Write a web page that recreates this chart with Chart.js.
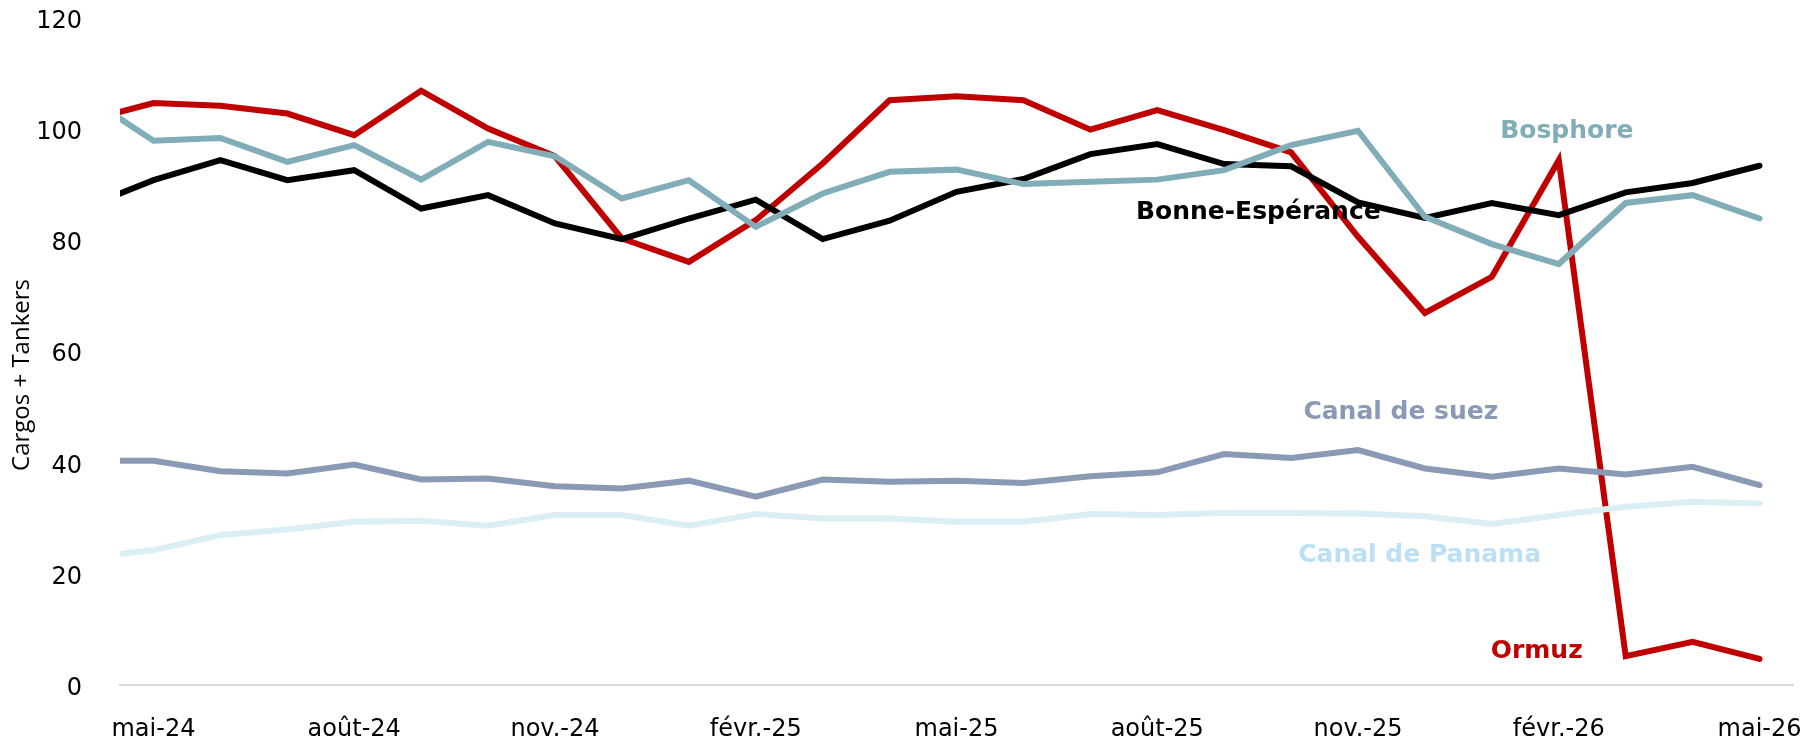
<!DOCTYPE html>
<html><head><meta charset="utf-8">
<script src="https://cdn.jsdelivr.net/npm/chart.js@4.4.1/dist/chart.umd.min.js"></script>
<style>html,body{margin:0;padding:0;background:#fff;}#wrap{width:1806px;height:740px;position:relative;}</style>
</head><body><div id="wrap"><canvas id="c" width="1806" height="740"></canvas></div>
<script>
// Months (first one sits just left of the visible area and is clipped)
const categories = ['avr.-24','mai-24','juin-24','juil.-24','août-24','sept.-24','oct.-24','nov.-24','déc.-24','janv.-25','févr.-25','mars-25','avr.-25','mai-25','juin-25','juil.-25','août-25','sept.-25','oct.-25','nov.-25','déc.-25','janv.-26','févr.-26','mars-26','avr.-26','mai-26'];
const tickLabels = ['mai-24','août-24','nov.-24','févr.-25','mai-25','août-25','nov.-25','févr.-26','mai-26'];
const yTicks = [0,20,40,60,80,100,120];

const ormuz     = [101.5,104.7,104.2,102.8,98.9,106.9,100.1,95.1,80.3,76.1,83.6,93.8,105.2,105.9,105.2,99.9,103.4,99.8,95.8,80.6,66.9,73.4,94.4,5.1,7.7,4.6];
const bosphore  = [105.9,97.9,98.4,94.1,97.1,90.9,97.7,95.1,87.5,90.8,82.4,88.4,92.3,92.7,90.1,90.5,90.9,92.6,97.1,99.7,84.2,79.3,75.7,86.7,88.1,83.9];
const bonneEsp  = [86.0,90.8,94.4,90.8,92.6,85.7,88.1,83.0,80.2,83.9,87.3,80.2,83.5,88.7,91.0,95.5,97.3,93.7,93.3,86.8,84.0,86.7,84.5,88.6,90.3,93.4];
const suez      = [40.3,40.3,38.4,38.0,39.6,36.9,37.1,35.7,35.3,36.7,33.8,36.9,36.5,36.7,36.3,37.5,38.2,41.5,40.8,42.2,38.9,37.4,38.9,37.8,39.2,35.9];
const panama    = [22.8,24.2,26.9,27.9,29.3,29.5,28.6,30.5,30.5,28.6,30.7,29.9,29.9,29.3,29.3,30.7,30.5,30.9,30.9,30.8,30.3,28.9,30.5,32.0,32.9,32.6];

const seriesNames = ['Canal de Panama','Canal de suez','Bosphore','Bonne-Espérance','Ormuz'];
const seriesColors = ['#DAEEF3','#8A9AB4','#80ADB7','#000000','#C00000'];
const labelColors  = ['#BBE0F5','#8A9AB4','#80ADB7','#000000','#C00000'];
// label anchors in data units [month offset, value]
const labelAnchors = [[18.92,23.3],[18.64,48.9],[21.12,99.5],[16.51,85.0],[20.67,5.9]];

const xOf = i => i - 1; // mai-24 = 0
const toPts = arr => arr.map((v,i)=>({x:xOf(i), y:v}));
const allSeries = [panama, suez, bosphore, bonneEsp, ormuz];
const tickPositions = tickLabels.map(l => xOf(categories.indexOf(l)));

const datasets = allSeries.map((arr,k)=>({
  label: seriesNames[k],
  data: toPts(arr),
  borderColor: seriesColors[k],
  backgroundColor: seriesColors[k],
  borderWidth: 6,
  pointRadius: 0,
  tension: 0,
  borderCapStyle: 'round',
  borderJoinStyle: 'miter',
  clip: 0
}));

const seriesLabelPlugin = {
  id: 'seriesLabels',
  afterDatasetsDraw(chart){
    const {ctx, scales:{x,y}} = chart;
    ctx.save();
    ctx.font = 'bold 25px "DejaVu Sans"';
    ctx.textAlign = 'center';
    ctx.textBaseline = 'middle';
    seriesNames.forEach((n,k)=>{
      ctx.fillStyle = labelColors[k];
      ctx.fillText(n, x.getPixelForValue(labelAnchors[k][0]), y.getPixelForValue(labelAnchors[k][1]));
    });
    ctx.restore();
  }
};
const yTitlePlugin = {
  id: 'yTitle',
  afterDraw(chart){
    const {ctx} = chart;
    ctx.save();
    ctx.translate(22, 375);
    ctx.rotate(-Math.PI/2);
    ctx.font = '24px "Open Sans"';
    ctx.fillStyle = '#000';
    ctx.textAlign = 'center';
    ctx.textBaseline = 'middle';
    ctx.fillText('Cargos + Tankers', 0, 0);
    ctx.restore();
  }
};

new Chart(document.getElementById('c'), {
  type: 'line',
  data: { datasets },
  options: {
    responsive: false,
    animation: false,
    devicePixelRatio: 1,
    layout: { padding: { top: 18, right: 13, left: 0, bottom: 0 } },
    plugins: { legend: { display: false }, tooltip: { enabled: false } },
    scales: {
      x: {
        type: 'linear', min: -0.5, max: 24.5,
        grid: { display: false },
        border: { display: true, color: '#D9D9D9', width: 2 },
        afterBuildTicks: s => { s.ticks = tickPositions.map(v=>({value:v})); },
        afterFit: s => { s.height = 55.5; s.paddingLeft = 0; s.paddingRight = 0; },
        ticks: {
          autoSkip: false, maxRotation: 0, padding: 23,
          color: '#000', font: { family: 'DejaVu Sans', size: 24 },
          callback: v => { const i = tickPositions.indexOf(v); return i >= 0 ? tickLabels[i] : ''; }
        }
      },
      y: {
        min: 0, max: 120,
        grid: { display: false },
        border: { display: false },
        afterBuildTicks: s => { s.ticks = yTicks.map(v=>({value:v})); },
        afterFit: s => { s.width = 120; s.paddingTop = 0; s.paddingBottom = 0; },
        ticks: { padding: 30, labelOffset: 4, color: '#000', font: { family: 'DejaVu Sans', size: 24 } }
      }
    }
  },
  plugins: [seriesLabelPlugin, yTitlePlugin]
});
</script></body></html>
